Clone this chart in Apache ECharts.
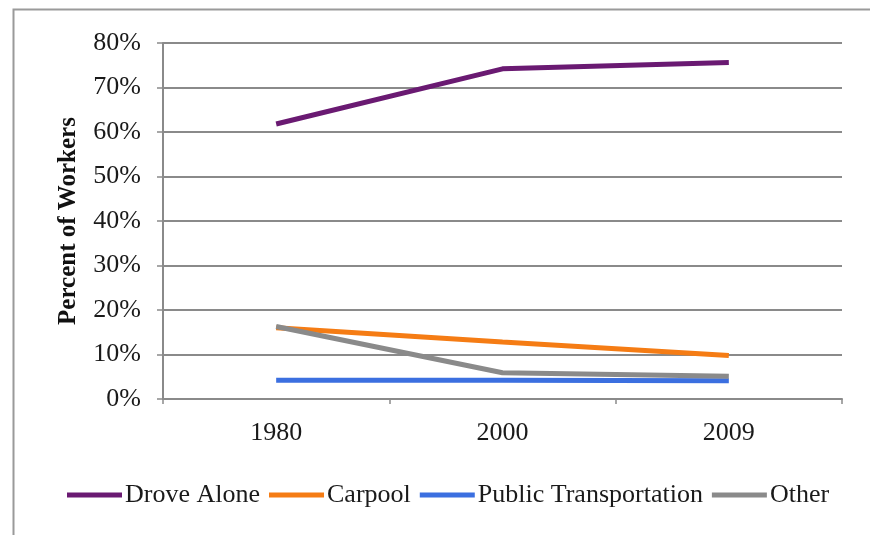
<!DOCTYPE html>
<html>
<head>
<meta charset="utf-8">
<script src="https://cdn.jsdelivr.net/npm/echarts@6/dist/echarts.min.js"></script>
<style>
html,body{margin:0;padding:0;background:#fff;}
#chart{width:870px;height:535px;}
</style>
</head>
<body>
<div id="chart"></div>
<script>
var categories = ['1980', '2000', '2009'];
var droveAlone = [61.8, 74.2, 75.6];
var carpool = [16.0, 12.8, 9.8];
var publicTransportation = [4.2, 4.2, 4.1];
var other = [16.3, 5.9, 5.1];
var seriesNames = ['Drove Alone', 'Carpool', 'Public Transportation', 'Other'];
var colors = ['#6a1a72', '#f57c14', '#3b6fe0', '#8a8a8a'];

var chart = echarts.init(document.getElementById('chart'));
var font = 'Liberation Serif';
function mk(name, data, color) {
  return {
    name: name, type: 'line', data: data, symbol: 'none',
    lineStyle: { width: 5, color: color }, itemStyle: { color: color },
    emphasis: { disabled: true }
  };
}
chart.setOption({
  animation: false,
  backgroundColor: '#fff',
  graphic: [{
    type: 'rect', left: 11, top: 7, shape: { width: 900, height: 600 },
    style: { fill: 'none', stroke: '#9a9a9a', lineWidth: 2 }, silent: true
  }],
  grid: { left: 163, right: 28, top: 43, bottom: 136, containLabel: false },
  legend: {
    data: seriesNames,
    left: 62, top: 477,
    icon: 'rect', itemWidth: 55, itemHeight: 5, itemGap: 9,
    textStyle: { fontFamily: font, fontSize: 26, color: '#1a1a1a', padding: [0, 0, 0, -2] }
  },
  xAxis: {
    type: 'category', data: categories, boundaryGap: true,
    axisLine: { lineStyle: { color: '#8a8a8a', width: 2 } },
    axisTick: { show: true, length: 5, lineStyle: { color: '#8a8a8a', width: 1.5 } },
    axisLabel: { fontFamily: font, fontSize: 26, color: '#1a1a1a', margin: 21 },
    splitLine: { show: false }
  },
  yAxis: {
    type: 'value', min: 0, max: 80, interval: 10,
    name: 'Percent of Workers', nameLocation: 'middle', nameGap: 82,
    nameTextStyle: { fontFamily: font, fontSize: 25, fontWeight: 'bold', color: '#111' },
    axisLine: { show: true, lineStyle: { color: '#8a8a8a', width: 2 } },
    axisTick: { show: true, length: 6, lineStyle: { color: '#8a8a8a', width: 1.5 } },
    axisLabel: { fontFamily: font, fontSize: 26, color: '#1a1a1a', margin: 22, formatter: '{value}%' },
    splitLine: { show: true, lineStyle: { color: '#8a8a8a', width: 2 } }
  },
  series: [
    mk(seriesNames[0], droveAlone, colors[0]),
    mk(seriesNames[1], carpool, colors[1]),
    mk(seriesNames[2], publicTransportation, colors[2]),
    mk(seriesNames[3], other, colors[3])
  ]
});
</script>
</body>
</html>
